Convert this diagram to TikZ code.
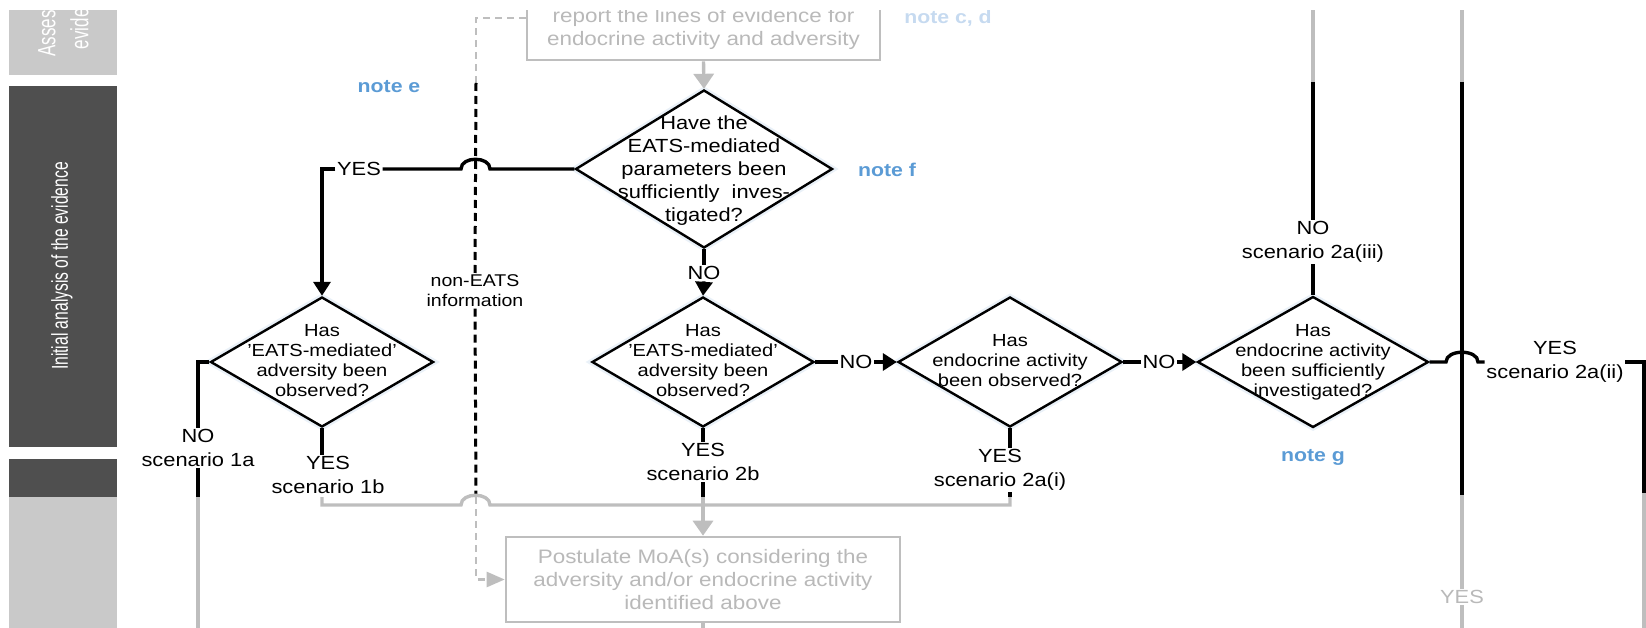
\documentclass[tikz,border=0pt]{standalone}
\usepackage{fontspec}
\setmainfont{Liberation Sans}[FakeStretch=1.15]
\newfontfamily\sidefont{Liberation Sans}[FakeStretch=0.68]
\usetikzlibrary{shapes.geometric,arrows.meta}

\definecolor{lineg}{HTML}{BEBEBE}
\definecolor{textg}{HTML}{B9B9B9}
\definecolor{noteblue}{HTML}{5B9BD5}
\definecolor{notepale}{HTML}{C6DAF0}
\definecolor{panellight}{HTML}{C9C9C9}
\definecolor{paneldark}{HTML}{4F4F4F}
\definecolor{glow}{HTML}{EAF1F8}

\begin{document}
\begin{tikzpicture}[x=1pt,y=-1pt,
  decision/.style={diamond, draw=black, line width=2.4pt, fill=white, inner sep=0pt,
    preaction={draw=glow, line width=7pt}},
  qtext/.style={align=center, inner sep=0pt, font=\fontsize{17.5}{20}\selectfont},
  qbig/.style={align=center, inner sep=0pt, font=\fontsize{19}{23}\selectfont},
  tag/.style={align=center, fill=white, inner sep=1.5pt, font=\fontsize{19}{23.5}\selectfont},
  smalltag/.style={align=center, fill=white, inner sep=1.5pt, font=\fontsize{17}{20}\selectfont},
  notelabel/.style={text=noteblue, inner sep=0pt, font=\bfseries\fontsize{18.5}{22}\selectfont},
  greybox/.style={draw=lineg, line width=2.6pt, fill=white, inner sep=0pt},
  greytext/.style={text=textg, align=center, inner sep=0pt, font=\fontsize{19.5}{23}\selectfont},
  sidetext/.style={text=white, align=center, inner sep=0pt, rotate=90},
  blk/.style={draw=black, line width=3.4pt},
  blkarrow/.style={blk, -{Triangle[length=14pt,width=17pt]}},
  gry/.style={draw=lineg, line width=3.4pt},
  gryarrow/.style={gry, -{Triangle[length=15pt,width=20pt]}},
  blkdash/.style={draw=black, line width=3pt, dash pattern=on 8pt off 5pt},
  grydash/.style={draw=lineg, line width=2.6pt, dash pattern=on 7pt off 5pt},
]
\useasboundingbox (0,0) rectangle (1646,628);
\clip (0,11) rectangle (1646,628);

% stage bars on the left
\fill[panellight] (9,-10) rectangle (117,75);
\fill[paneldark] (9,86) rectangle (117,447);
\fill[paneldark] (9,459) rectangle (117,497);
\fill[panellight] (9,497) rectangle (117,640);
\node[sidetext, font=\sidefont\fontsize{25}{33}\selectfont] (sideA) at (63,15) {Assess the\\evidence};
\node[sidetext, font=\sidefont\fontsize{23}{27}\selectfont] (sideB) at (62,266) {Initial analysis of the evidence};

% boxes of the neighbouring stages
\node[greybox, minimum width=353pt, minimum height=84pt] (box1) at (703.5,18) {};
\node[greytext] (box1t) at (703.5,28.5) {report the lines of evidence for\\endocrine activity and adversity};
\node[greybox, greytext, minimum width=394pt, minimum height=85pt] (box2) at (703,579.5)
  {Postulate MoA(s) considering the\\adversity and/or endocrine activity\\identified above};

% decisions
\node[decision, minimum width=257pt, minimum height=158pt] (d1) at (704,169) {};
\node[qbig] (d1t) at (704,171) {Have the\\EATS-mediated\\parameters been\\sufficiently\ \ inves-\\tigated?};
\node[decision, minimum width=223pt, minimum height=130pt] (d1b) at (322,362) {};
\node[qtext] (d1bt) at (322,361) {Has\\'EATS-mediated'\\adversity been\\observed?};
\node[decision, minimum width=222pt, minimum height=130pt] (d2) at (703,362) {};
\node[qtext] (d2t) at (703,361) {Has\\'EATS-mediated'\\adversity been\\observed?};
\node[decision, minimum width=224pt, minimum height=130pt] (d3) at (1010,362) {};
\node[qtext] (d3t) at (1010,361) {Has\\endocrine activity\\been observed?};
\node[decision, minimum width=231pt, minimum height=131pt] (d4) at (1313,362) {};
\node[qtext] (d4t) at (1313,362) {Has\\endocrine activity\\been sufficiently\\investigated?};

% notes
\node[notelabel] (ne) at (389,87) {note e};
\node[notelabel] (nf) at (887,170) {note f};
\node[notelabel] (ng) at (1313,457) {note g};
\node[notelabel, text=notepale] (ncd) at (948,18) {note c, d};

% branch labels
\node[tag] (yes1) at (359,169) {YES};
\node[tag] (no1) at (704,273) {NO};
\node[tag] (no2) at (856,362) {NO};
\node[tag] (no3) at (1159,362) {NO};
\node[tag] (lab1a) at (198,448) {NO\\scenario 1a};
\node[tag] (lab1b) at (328,475) {YES\\scenario 1b};
\node[tag] (lab2b) at (703,462) {YES\\scenario 2b};
\node[tag] (lab2ai) at (1000,470) {YES\\scenario 2a(i)};
\node[tag] (lab2aiii) at (1313,242) {NO\\scenario 2a(iii)};
\node[tag] (lab2aii) at (1555,362) {YES\\scenario 2a(ii)};
\node[tag, text=textg] (yesg) at (1462,597) {YES};
\node[smalltag] (noneats) at (475,291) {non-EATS\\information};

% end points of connectors
\coordinate (c1a) at (198,497);
\coordinate (c1aend) at (198,640);
\coordinate (m1) at (322,497);
\coordinate (m2) at (703,497);
\coordinate (m3) at (1010,497);
\coordinate (t1) at (1313,82);
\coordinate (t1end) at (1313,0);
\coordinate (v2top) at (1462,0);
\coordinate (v2a) at (1462,82);
\coordinate (v2b) at (1462,495);
\coordinate (v2end) at (1462,640);
\coordinate (r1) at (1644,362);
\coordinate (r2) at (1644,493);
\coordinate (r2end) at (1644,640);
\coordinate (dz1) at (476,83);
\coordinate (dz2) at (476,497);
\coordinate (b2end) at (703,640);

% non-EATS information path
\draw[grydash] (box1.west) -| (dz1);
\draw[blkdash] (dz1) -- (noneats.north);
\draw[blkdash] (noneats.south) -- (dz2);
\draw[grydash, -{Triangle[length=18pt,width=15pt]}] (dz2) |- (box2.west);

% main flow
\draw[gryarrow] (box1.south) -- (d1.north);
\draw[blk] (d1.west) -- (490,169) .. controls (490,156) and (461,156) .. (461,169) -- (yes1.east);
\draw[blkarrow] (yes1.west) -| (d1b.north);
\draw[blk] (d1.south) -- (no1.north);
\draw[blkarrow] (no1.south) -- (d2.north);

\draw[blk] (d1b.west) -| (lab1a.north);
\draw[blk] (lab1a.south) -- (c1a);
\draw[gry] (c1a) -- (c1aend);

\draw[blk] (d1b.south) -- (d1b.south |- lab1b.north);
\draw[gry] (m1) -- (322,505) -- (461,505) .. controls (461,492) and (490,492) .. (490,505) -- (1010,505) -- (m3);

\draw[blk] (d2.south) -- (lab2b.north);
\draw[blk] (lab2b.south) -- (m2);
\draw[gryarrow] (m2) -- (box2.north);
\draw[gry] (box2.south) -- (b2end);

\draw[blk] (d2.east) -- (no2.west);
\draw[blkarrow] (no2.east) -- (d3.west);
\draw[blk] (d3.south) -- (d3.south |- lab2ai.north);
\draw[blk] (lab2ai.south -| d3.south) -- (m3);

\draw[blk] (d3.east) -- (no3.west);
\draw[blkarrow] (no3.east) -- (d4.west);
\draw[blk] (d4.north) -- (lab2aiii.south);
\draw[blk] (lab2aiii.north) -- (t1);
\draw[gry] (t1) -- (t1end);

\draw[gry] (v2top) -- (v2a);
\draw[blk] (v2a) -- (v2b);
\draw[gry] (v2b) -- (yesg.north);
\draw[gry] (yesg.south) -- (v2end);

\draw[blk] (d4.east) -- (1446,362) .. controls (1446,349) and (1478,349) .. (1478,362) -- (lab2aii.west |- d4.east);
\draw[blk] (lab2aii.east |- d4.east) -- (r1) -- (r2);
\draw[gry] (r2) -- (r2end);
\end{tikzpicture}
\end{document}
